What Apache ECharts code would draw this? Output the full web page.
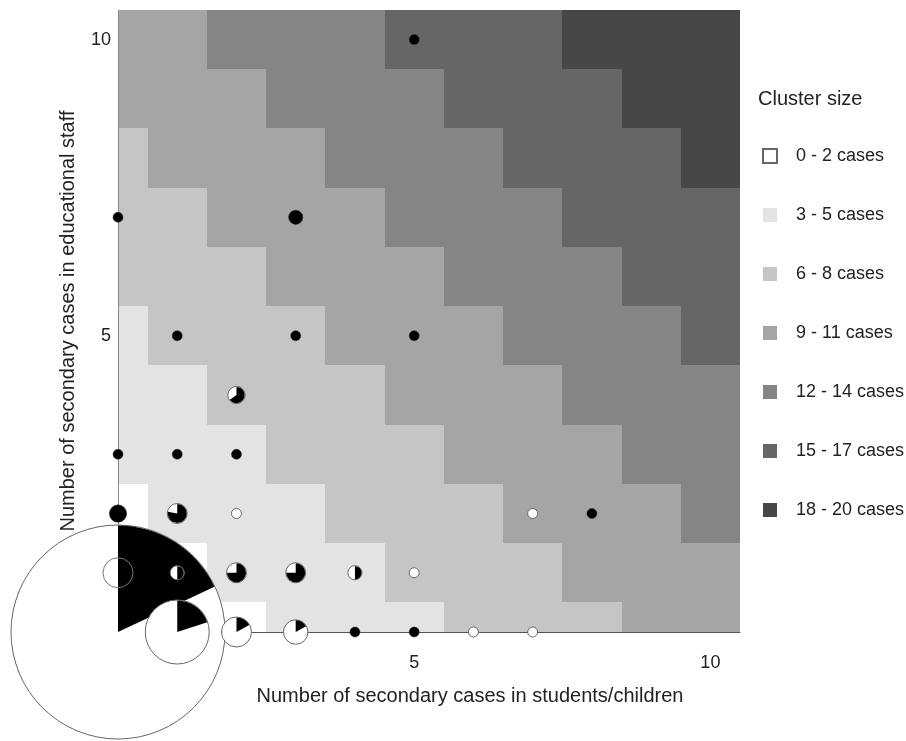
<!DOCTYPE html>
<html><head><meta charset="utf-8">
<script src="https://cdn.jsdelivr.net/npm/echarts@6/dist/echarts.min.js"></script>
<style>html,body{margin:0;padding:0;background:#fff}#c{width:906px;height:741px}</style>
</head><body><div id="c"></div>
<script>
// ---- data ----
const binLabels = ['0 - 2 cases', '3 - 5 cases', '6 - 8 cases', '9 - 11 cases', '12 - 14 cases', '15 - 17 cases', '18 - 20 cases'];
const binColors = ['#ffffff', '#e3e3e3', '#c5c5c5', '#a5a5a5', '#858585', '#666666', '#474747'];
// bin index of each cell, rows for staff cases y = 0..10, columns for student cases x = 0..10
const binRows = [
  [0,0,0,1,1,1,2,2,2,3,3],
  [0,0,1,1,1,2,2,2,3,3,3],
  [0,1,1,1,2,2,2,3,3,3,4],
  [1,1,1,2,2,2,3,3,3,4,4],
  [1,1,2,2,2,3,3,3,4,4,4],
  [1,2,2,2,3,3,3,4,4,4,5],
  [2,2,2,3,3,3,4,4,4,5,5],
  [2,2,3,3,3,4,4,4,5,5,5],
  [2,3,3,3,4,4,4,5,5,5,6],
  [3,3,3,4,4,4,5,5,5,6,6],
  [3,3,4,4,4,5,5,5,6,6,6]
];
const xTickLabels = [5, 10];
const yTickLabels = [5, 10];
// observed clusters: student cases, staff cases, number of clusters, share drawn black
const pointX       = [0,   1,    2,    3,    4, 5, 6, 7, 1,   2,    3,    4,   5, 0, 1,   2, 7, 8, 0, 1, 2, 2,    1, 3, 5, 0, 3, 5];
const pointY       = [0,   0,    0,    0,    0, 0, 0, 0, 1,   1,    1,    1,   1, 2, 2,   2, 2, 2, 3, 3, 3, 4,    5, 5, 5, 7, 7, 10];
const clusterCount = [458, 41,   9,    6,    1, 1, 1, 1, 2,   4,    4,    2,   1, 3, 4,   1, 1, 1, 1, 1, 1, 3,    1, 1, 1, 1, 2, 1];
const blackShare   = [0.18,0.2, 0.17, 0.17, 1, 1, 0, 0, 0.5, 0.75, 0.75, 0.5, 0, 1, 0.78,0, 0, 1, 1, 1, 1, 0.65, 1, 1, 1, 1, 1, 1];
// outlined (unfilled) cluster marker
const ringX = [0];
const ringY = [1];
const ringCount = [9];

// ---- build ----
const FONT = "'Liberation Sans', Arial, Helvetica, sans-serif";
const cellSeries = binLabels.map((name, b) => {
  const data = [];
  binRows.forEach((row, y) => row.forEach((v, x) => { if (v === b) data.push([x, y]); }));
  return {
    name, type: 'custom', z: 1, data,
    itemStyle: b === 0 ? { color: binColors[b], borderColor: '#666', borderWidth: 1 } : { color: binColors[b], borderWidth: 0 },
    encode: { x: 0, y: 1 },
    renderItem: (params, api) => {
      const x = api.value(0), y = api.value(1);
      const p0 = api.coord([x - 0.5, y + 0.5]);
      const p1 = api.coord([x + 0.5, y - 0.5]);
      const cs = params.coordSys;
      const x0 = Math.round(Math.max(p0[0], cs.x));
      const x1 = Math.round(Math.min(p1[0], cs.x + cs.width));
      const y0 = Math.round(Math.max(p0[1], cs.y));
      const y1 = Math.round(Math.min(p1[1], cs.y + cs.height));
      if (x1 <= x0 || y1 <= y0) return null;
      return { type: 'rect', shape: { x: x0, y: y0, width: x1 - x0, height: y1 - y0 }, style: { fill: binColors[b] } };
    }
  };
});

const pieData = pointX.map((x, i) => [x, pointY[i], clusterCount[i], blackShare[i]]);
const pieSeries = {
  type: 'custom', z: 5, clip: false, silent: true, data: pieData, encode: { x: 0, y: 1 },
  renderItem: (params, api) => {
    const c = api.coord([api.value(0), api.value(1)]);
    const r = 5 * Math.sqrt(api.value(2));
    const share = api.value(3);
    const children = [];
    if (share >= 1) {
      children.push({ type: 'circle', shape: { cx: c[0], cy: c[1], r }, style: { fill: '#000', stroke: '#222', lineWidth: 0.5 } });
    } else {
      children.push({ type: 'circle', shape: { cx: c[0], cy: c[1], r }, style: { fill: '#fff', stroke: '#666', lineWidth: 1 } });
      if (share > 0) {
        children.push({ type: 'sector', shape: { cx: c[0], cy: c[1], r0: 0, r: r - 0.5, startAngle: -Math.PI / 2, endAngle: -Math.PI / 2 + 2 * Math.PI * share, clockwise: true }, style: { fill: '#000' } });
      }
    }
    return { type: 'group', children };
  }
};
const ringSeries = {
  type: 'custom', z: 6, clip: false, silent: true,
  data: ringX.map((x, i) => [x, ringY[i], ringCount[i]]), encode: { x: 0, y: 1 },
  renderItem: (params, api) => {
    const c = api.coord([api.value(0), api.value(1)]);
    return { type: 'circle', shape: { cx: c[0], cy: c[1], r: 5 * Math.sqrt(api.value(2)) }, style: { fill: 'none', stroke: '#777', lineWidth: 1 } };
  }
};

const chart = echarts.init(document.getElementById('c'), null, { renderer: 'canvas' });
chart.setOption({
  animation: false,
  backgroundColor: '#fff',
  textStyle: { fontFamily: FONT },
  title: { text: 'Cluster size', left: 753, top: 84, textStyle: { fontFamily: FONT, fontSize: 20, fontWeight: 'normal', color: '#222' } },
  legend: {
    orient: 'vertical', left: 757, top: 142, itemWidth: 14, itemHeight: 14, itemGap: 41,
    icon: 'rect', selectedMode: false,
    data: binLabels.map(n => ({ name: n })),
    textStyle: { fontFamily: FONT, fontSize: 18, color: '#222', padding: [0, 0, 0, 14] }
  },
  grid: { left: 118, top: 10, right: 166, bottom: 109, containLabel: false },
  xAxis: {
    type: 'value', min: 0, max: 10.5, interval: 5, z: 3,
    splitLine: { show: false }, axisTick: { show: false },
    axisLine: { show: true, lineStyle: { color: '#555', width: 1 } },
    axisLabel: { margin: 22, fontSize: 18, color: '#222', fontFamily: FONT, formatter: v => xTickLabels.includes(v) ? String(v) : '' },
    name: 'Number of secondary cases in students/children', nameLocation: 'middle', nameGap: 54,
    nameTextStyle: { fontSize: 20, color: '#222', fontFamily: FONT, padding: [0, 0, 0, 82] }
  },
  yAxis: {
    type: 'value', min: 0, max: 10.5, interval: 5, z: 3,
    splitLine: { show: false }, axisTick: { show: false },
    axisLine: { show: true, lineStyle: { color: '#888', width: 1 } },
    axisLabel: { margin: 7, fontSize: 18, color: '#222', fontFamily: FONT, formatter: v => yTickLabels.includes(v) ? String(v) : '' },
    name: 'Number of secondary cases in educational staff', nameLocation: 'middle', nameGap: 40,
    nameTextStyle: { fontSize: 20, color: '#222', fontFamily: FONT }
  },
  series: [...cellSeries, pieSeries, ringSeries]
});
</script>
</body></html>
